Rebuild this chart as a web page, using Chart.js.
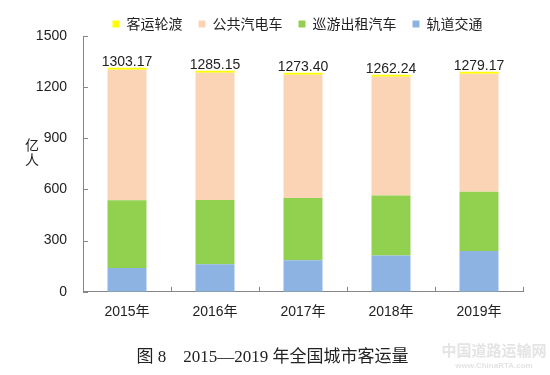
<!DOCTYPE html>
<html>
<head>
<meta charset="utf-8">
<script src="https://cdn.jsdelivr.net/npm/chart.js@4.4.1/dist/chart.umd.min.js"></script>
<style>
  html, body { margin: 0; padding: 0; background: #fff; }
</style>
</head>
<body>
<canvas id="chart" width="550" height="375"></canvas>
<script>
(function () {
    'use strict';

    // Data, in 亿人.
    var years = ['2015年', '2016年', '2017年', '2018年', '2019年'];
    var railTransit = [140.01, 161.51, 184.30, 212.77, 238.78];
    var taxi = [396.74, 377.35, 365.40, 351.67, 347.89];
    var bus = [765.40, 745.35, 722.87, 697.00, 691.76];
    var ferry = [1.02, 0.94, 0.83, 0.80, 0.74];
    var totals = ['1303.17', '1285.15', '1273.40', '1262.24', '1279.17'];
    var yTicks = [0, 300, 600, 900, 1200, 1500];

    var FONT = '"Liberation Sans", "Noto Sans CJK SC", sans-serif';
    var CJK = '"Noto Sans CJK SC", sans-serif';
    var TEXT = '#222';
    var AXIS = '#868686';

    // Moves the legend a bit right and down, like the original.
    var legendShift = {
        id: 'legendShift',
        afterLayout: function (chart) {
            var lg = chart.legend;
            lg.left += 25;
            lg.right += 25;
            lg.top += 1;
            lg.bottom += 1;
        }
    };

    // Totals above each stack, inside tick marks, unit label, watermark.
    var extras = {
        id: 'extras',
        afterDatasetsDraw: function (chart) {
            var ctx = chart.ctx;
            var top = chart.getDatasetMeta(3).data;
            ctx.save();
            ctx.font = '14px ' + FONT;
            ctx.fillStyle = TEXT;
            ctx.textAlign = 'center';
            ctx.textBaseline = 'alphabetic';
            top.forEach(function (bar, i) {
                ctx.fillText(totals[i], bar.x, bar.y - 2);
            });
            ctx.restore();
        },
        afterDraw: function (chart) {
            var ctx = chart.ctx;
            var x = chart.scales.x, y = chart.scales.y;
            ctx.save();
            ctx.strokeStyle = AXIS;
            ctx.lineWidth = 1;
            ctx.beginPath();
            for (var i = 1; i <= years.length; i++) {
                var px = Math.round(x.getPixelForValue(i - 0.5)) + 0.5;
                ctx.moveTo(px, y.bottom);
                ctx.lineTo(px, y.bottom - 5);
            }
            yTicks.forEach(function (v) {
                var py = Math.round(y.getPixelForValue(v)) + 0.5;
                ctx.moveTo(x.left, py);
                ctx.lineTo(x.left + 5, py);
            });
            ctx.stroke();

            ctx.fillStyle = TEXT;
            ctx.font = '14px ' + CJK;
            ctx.textAlign = 'center';
            ctx.textBaseline = 'middle';
            ctx.fillText('亿', 32, 145);
            ctx.fillText('人', 32, 160);

            ctx.fillStyle = '#e4e4e4';
            ctx.font = 'bold 15px ' + CJK;
            ctx.fillText('中国道路运输网', 494, 350);
            ctx.font = 'bold 8px ' + FONT;
            ctx.fillText('www.ChinaRTA.com', 494, 366);
            ctx.restore();
        }
    };

    new Chart(document.getElementById('chart'), {
        type: 'bar',
        data: {
            labels: years,
            datasets: [
                { label: '轨道交通', data: railTransit, backgroundColor: '#8DB3E2' },
                { label: '巡游出租汽车', data: taxi, backgroundColor: '#92D050' },
                { label: '公共汽电车', data: bus, backgroundColor: '#FAD4B4' },
                { label: '客运轮渡', data: ferry, backgroundColor: '#FFFF00', minBarLength: 2 }
            ]
        },
        options: {
            responsive: false,
            animation: false,
            devicePixelRatio: 1,
            layout: { padding: { left: 22, right: 27, top: 0, bottom: 0 } },
            datasets: {
                bar: { barPercentage: 0.443, categoryPercentage: 1, borderWidth: 0 }
            },
            plugins: {
                tooltip: { enabled: false },
                legend: {
                    position: 'top',
                    reverse: true,
                    maxHeight: 36,
                    labels: {
                        boxWidth: 7,
                        boxHeight: 7,
                        padding: 16,
                        color: TEXT,
                        font: { size: 14, family: CJK }
                    }
                },
                title: {
                    display: true,
                    position: 'bottom',
                    text: '图 8　2015—2019 年全国城市客运量',
                    color: TEXT,
                    font: { size: 17, weight: 'normal', family: '"Liberation Serif", "Noto Sans CJK SC", serif' },
                    padding: { top: 15, bottom: 7 }
                }
            },
            scales: {
                x: {
                    stacked: true,
                    grid: { display: false, drawTicks: false },
                    border: { color: AXIS },
                    ticks: { padding: 12, color: TEXT, font: { size: 14, family: FONT } }
                },
                y: {
                    stacked: true,
                    min: 0,
                    max: 1500,
                    grid: { display: false, drawTicks: false },
                    border: { color: AXIS },
                    ticks: {
                        stepSize: 300,
                        padding: 16,
                        color: TEXT,
                        font: { size: 14, family: FONT },
                        callback: function (v) { return String(v); }
                    },
                    afterFit: function (scale) { scale.width = 61; }
                }
            }
        },
        plugins: [legendShift, extras]
    });
})();
</script>
</body>
</html>
